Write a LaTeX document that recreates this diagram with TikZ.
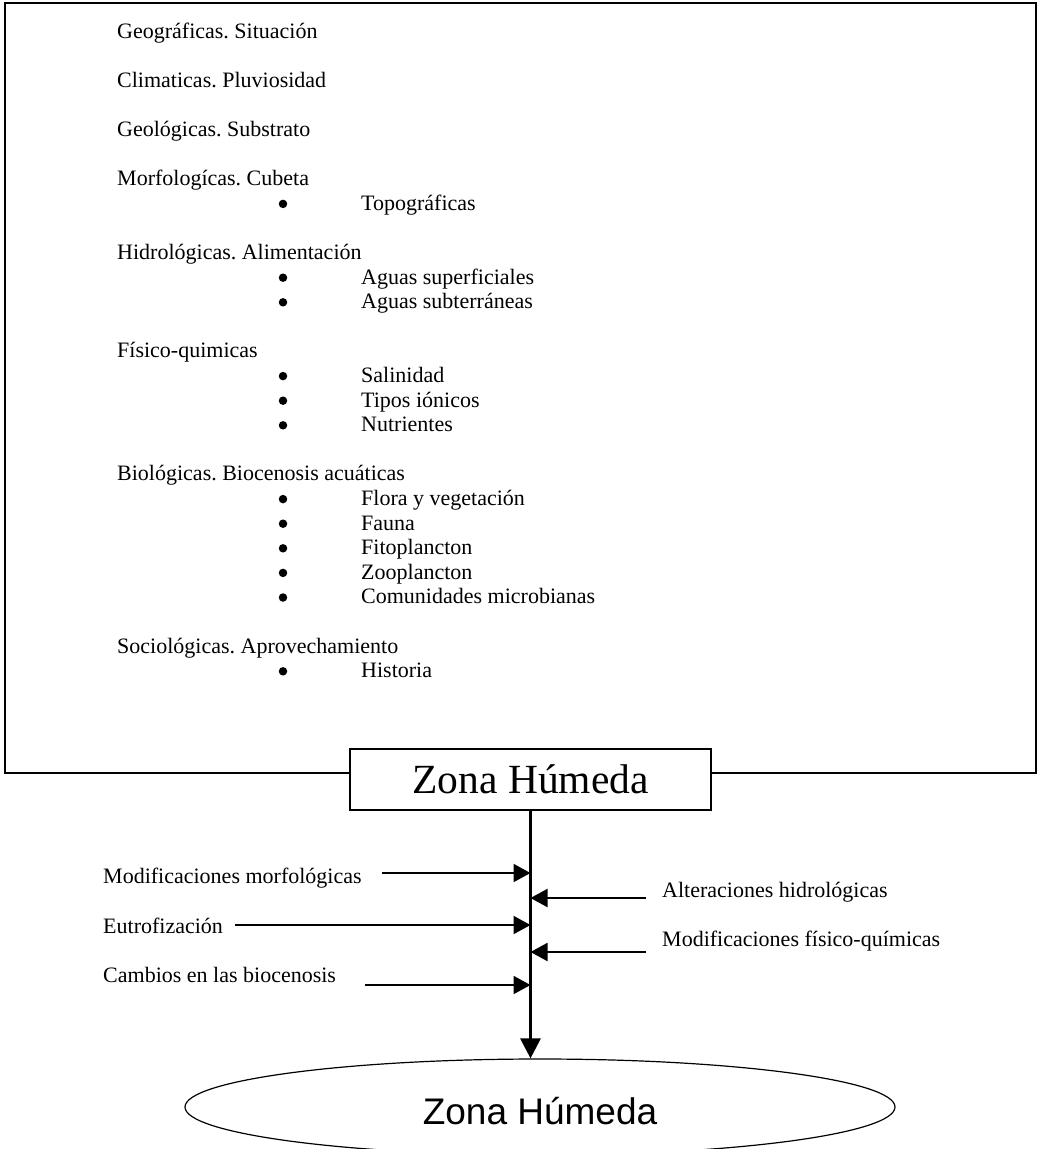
\documentclass[tikz,border=0pt]{standalone}
\usepackage{fontspec}
\setmainfont{Liberation Serif}
\newfontfamily\ovalfont{Liberation Sans}
\usetikzlibrary{arrows.meta,
  shapes.geometric
}
\tikzset{>={Triangle[length=17pt,width=18pt]}}
\frenchspacing

\begin{document}
\begin{tikzpicture}[x=1pt,y=-1pt,font=\fontsize{22}{26}\selectfont,
    head/.style={anchor=base west,inner sep=0},
    dot/.style={circle,fill,minimum size=8.5,inner sep=0},
    feed/.style={line width=2,->}]
  \useasboundingbox (0,0) rectangle (1038,1149);

  % Title box and frame
  \node[draw,line width=1.2,minimum width=361,minimum height=61,inner sep=0,
    font=\fontsize{41.5}{41.5}\selectfont] (box) at (530.5,779.5) {Zona Húmeda};
  \coordinate (fbl) at (5,773);
  \coordinate (fbr) at (1036,773);
  \draw[line width=1.2] (fbl -| box.west) -- (fbl) |- (1036,3) -- (fbr) -- (fbr -| box.east);

  % Headings
  \foreach \k/\txt in {0/Geográficas. Situación, 2/Climaticas. Pluviosidad,
      4/Geológicas. Substrato, 6/Morfologícas. Cubeta, 9/Hidrológicas. Alimentación,
      13/Físico-quimicas, 18/Biológicas. Biocenosis acuáticas,
      25/Sociológicas. Aprovechamiento}
    \node[head] (h\k) at (117, {38+24.6*\k}) {\txt};

  % Bullets
  \foreach \k/\txt in {7/Topográficas, 10/Aguas superficiales, 11/Aguas subterráneas,
      14/Salinidad, 15/Tipos iónicos, 16/Nutrientes, 19/Flora y vegetación,
      20/Fauna, 21/Fitoplancton, 22/Zooplancton, 23/Comunidades microbianas,
      26/Historia} {
    \node[dot] (b\k) at (283, {31.7+24.6*\k}) {};
    \node[head] (i\k) at (361, {38+24.6*\k}) {\txt};
  }

  % Result
  \node[ellipse,draw,line width=1.2,minimum width=710,minimum height=96,inner sep=0,
    text height=34pt,text depth=0pt,font=\ovalfont\fontsize{37}{37}\selectfont]
    (oval) at (540,1107) {Zona Húmeda};
  \draw[line width=3,-{Triangle[length=20pt,width=20pt]}] (box.south) -- (box.south |- oval.north);

  % Left impacts
  \node[head] (morfo) at (103,883) {Modificaciones morfológicas};
  \node[head] (eutro) at (103,933) {Eutrofización};
  \node[head] (bioc) at (103,982) {Cambios en las biocenosis};
  \coordinate (morfoin) at (382,873);
  \coordinate (eutroin) at (235,925);
  \coordinate (biocin) at (365,985);
  \draw[feed] (morfoin) -- (morfoin -| box.south);
  \draw[feed] (eutroin) -- (eutroin -| box.south);
  \draw[feed] (biocin) -- (biocin -| box.south);

  % Right impacts
  \node[head] (hidro) at (662,897) {Alteraciones hidrológicas};
  \node[head] (fq) at (662,946) {Modificaciones físico-químicas};
  \coordinate (hidroin) at (646,898);
  \coordinate (fqin) at (646,952);
  \draw[feed] (hidroin) -- (hidroin -| box.south);
  \draw[feed] (fqin) -- (fqin -| box.south);
\end{tikzpicture}
\end{document}
